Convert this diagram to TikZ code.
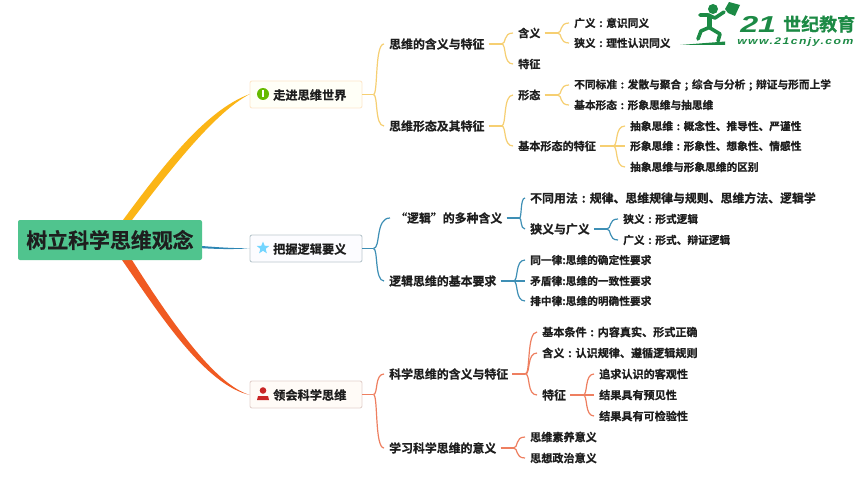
\documentclass[tikz,border=0pt]{standalone}
\usepackage{fontspec}
\setmainfont[BoldFont={Noto Sans CJK SC Bold},BoldFeatures={FakeBold=0.6}]{Noto Sans CJK SC}
\newfontfamily\latinlogo{Liberation Sans}
\usetikzlibrary{calc,shapes.geometric}
\newcommand\cc{\makebox[1em][c]{:}}
\newcommand\cs{\makebox[1em][c]{;}}
\definecolor{txt}{HTML}{1E1E1E}
\definecolor{rootc}{HTML}{50C48E}
\definecolor{yb}{HTML}{FBB516}
\definecolor{yl}{HTML}{F6CF72}
\definecolor{bb}{HTML}{2D86B4}
\definecolor{bl}{HTML}{3E8FB5}
\definecolor{rb}{HTML}{F05A22}
\definecolor{rl}{HTML}{EE7F60}
\definecolor{logogreen}{HTML}{1C8A45}
\tikzset{
 x=1pt,y=-1pt,
 lab/.style={anchor=west,inner xsep=4pt,inner ysep=1pt,xshift=-4pt,text=txt,font=\bfseries},
 fa/.style={lab,font=\bfseries\fontsize{11.9}{12}\selectfont},
 fb/.style={lab,font=\bfseries\fontsize{11.1}{12}\selectfont},
 fc/.style={lab,font=\bfseries\fontsize{10.7}{12}\selectfont},
 mainbox/.style={rounded corners=2pt,line width=0.9pt,minimum width=112pt,minimum height=27pt,inner sep=0pt},
 yline/.style={draw=yl,line width=1.2pt},
 bline/.style={draw=bl,line width=1.2pt},
 rline/.style={draw=rl,line width=1.2pt},
}
\newcommand\forkto[3]{%
 \coordinate (J) at ($(#2.east)+(13,0)$);
 \draw[#1] (#2.east) -- (J);
 \foreach \kid in {#3}{
  \draw[#1] let \p1=(J), \p2=($(\kid.west)+(-1,0)$) in
   (\p1) .. controls ({\x1+0.45*(\x2-\x1)},\y1) and ({\x1+0.1*(\x2-\x1)},\y2) .. (\p2);
 }}
\newcommand\boxfork[3]{%
 \coordinate (J) at ($(#2.east)+(11,0)$);
 \draw[#1] (#2.east) -- (J);
 \foreach \kid in {#3}{
  \draw[#1] let \p1=(J), \p2=($(\kid.west)+(-1,0)$) in
   (\p1) .. controls ({\x1+0.45*(\x2-\x1)},\y1) and ({\x1+0.1*(\x2-\x1)},\y2) .. (\p2);
 }}
\begin{document}
\begin{tikzpicture}
\useasboundingbox (0,0) rectangle (860,484);
\fill[white] (0,0) rectangle (860,484);

% tapered main branches
\fill[yb] (123,220) .. controls (160,170) and (205,110) .. (250,94)
 .. controls (215,112) and (170,170) .. (132,220) -- cycle;
\fill[bb] (202,246) .. controls (220,247.5) and (235,248.3) .. (250,248.3)
 .. controls (235,249.4) and (220,249.2) .. (202,248.2) -- cycle;
\fill[rb] (122,260) .. controls (160,315) and (205,385) .. (250,395)
 .. controls (215,385) and (170,320) .. (132,260) -- cycle;

% root
\node[fill=rootc,rounded corners=2pt,minimum width=184pt,minimum height=40pt,inner sep=0pt,text=txt,font=\bfseries\fontsize{20.9}{22}\selectfont] (root) at (110,240) {树立科学思维观念};

% main boxes
\node[mainbox,draw=yl!45!orange!25,fill=yellow!3] (m1) at (306,94.5) {};
\node[mainbox,draw=bl!35!gray!45,fill=blue!1] (m2) at (306,248.5) {};
\node[mainbox,draw=rl!45!gray!35,fill=orange!3] (m3) at (306,394.5) {};
\node[lab,font=\bfseries\fontsize{12.2}{13}\selectfont] (m1t) at (273,95) {走进思维世界};
\node[lab,font=\bfseries\fontsize{12.2}{13}\selectfont] (m2t) at (273,249) {把握逻辑要义};
\node[lab,font=\bfseries\fontsize{12.2}{13}\selectfont] (m3t) at (273,395) {领会科学思维};

% icons
\fill[green!55!black!60!yellow] (263,94) circle (6);
\fill[white] (262.4,90.5) rectangle (263.6,97.5);
\node[star,star points=5,star point ratio=2.3,fill=blue!30!cyan!55,minimum size=13pt,inner sep=0pt] (staricon) at (263,248) {};
\fill[red!75!black!85] (263,390.5) circle (3.3);
\fill[red!75!black!85] (257,400) -- (258,396) -- (268,396) -- (269,400) -- cycle;

% level 2
\node[fa] (a1) at (389,44) {思维的含义与特征};
\node[fa] (a2) at (389,126) {思维形态及其特征};
\node[fa] (b1) at (395,218) {“逻辑”的多种含义};
\node[fa] (b2) at (389,281) {逻辑思维的基本要求};
\node[fa] (c1) at (389,374) {科学思维的含义与特征};
\node[fa] (c2) at (389,448) {学习科学思维的意义};

% yellow subtree
\node[fb] (a11) at (518,33) {含义};
\node[fb] (a12) at (518,64) {特征};
\node[fb] (a21) at (518,95) {形态};
\node[fb] (a22) at (518,146) {基本形态的特征};
\node[fc] (a111) at (574,23) {广义\cc 意识同义};
\node[fc] (a112) at (574,43) {狭义\cc 理性认识同义};
\node[fc] (a211) at (574,85) {不同标准\cc 发散与聚合\cs 综合与分析\cs 辩证与形而上学};
\node[fc] (a212) at (574,105) {基本形态\cc 形象思维与抽思维};
\node[fc] (a221) at (630,126) {抽象思维\cc 概念性、推导性、严谨性};
\node[fc] (a222) at (630,146) {形象思维\cc 形象性、想象性、情感性};
\node[fc] (a223) at (630,167) {抽象思维与形象思维的区别};

% blue subtree
\node[fa] (b11) at (530,198) {不同用法\cc 规律、思维规律与规则、思维方法、逻辑学};
\node[fa] (b12) at (530,229) {狭义与广义};
\node[fc] (b121) at (623,219) {狭义\cc 形式逻辑};
\node[fc] (b122) at (623,240) {广义\cc 形式、辩证逻辑};
\node[fc] (b21) at (530,260) {同一律:思维的确定性要求};
\node[fc] (b22) at (530,281) {矛盾律:思维的一致性要求};
\node[fc] (b23) at (530,301) {排中律:思维的明确性要求};

% red subtree
\node[fb] (c11) at (542,332) {基本条件\cc 内容真实、形式正确};
\node[fb] (c12) at (542,353) {含义\cc 认识规律、遵循逻辑规则};
\node[fa] (c13) at (542,395) {特征};
\node[fb] (c131) at (599,374) {追求认识的客观性};
\node[fb] (c132) at (599,395) {结果具有预见性};
\node[fb] (c133) at (599,416) {结果具有可检验性};
\node[fb] (c21) at (530,437) {思维素养意义};
\node[fb] (c22) at (530,458) {思想政治意义};

% connectors
\boxfork{yline}{m1}{a1,a2}
\forkto{yline}{a1}{a11,a12}
\forkto{yline}{a11}{a111,a112}
\forkto{yline}{a2}{a21,a22}
\forkto{yline}{a21}{a211,a212}
\forkto{yline}{a22}{a221,a222,a223}
\boxfork{bline}{m2}{b1,b2}
\forkto{bline}{b1}{b11,b12}
\forkto{bline}{b12}{b121,b122}
\forkto{bline}{b2}{b21,b22,b23}
\boxfork{rline}{m3}{c1,c2}
\forkto{rline}{c1}{c11,c12,c13}
\forkto{rline}{c13}{c131,c132,c133}
\forkto{rline}{c2}{c21,c22}

% logo
\fill[logogreen] (680,45) -- (725,41.5) -- (725,45) -- cycle;
\fill[logogreen] (713,9) circle (5);
\fill[logogreen] (725,9) -- (729,2) -- (740,5) -- (735,16) -- (728,13) -- cycle;
\draw[logogreen,line width=3.6pt,line cap=round,line join=round] (700,15) -- (708,15) -- (715,18) -- (724,12);
\draw[logogreen,line width=5pt,line cap=round] (709,16) -- (709,27);
\draw[logogreen,line width=3.6pt,line cap=round,line join=round] (708,28) -- (701,31) -- (698,39);
\draw[logogreen,line width=3.6pt,line cap=round,line join=round] (710,28) -- (720,34) -- (718,41);
\node[anchor=west,inner sep=0pt,xscale=1.4,text=logogreen,font=\latinlogo\bfseries\itshape\fontsize{23}{23}\selectfont] (logoa) at (740,24) {21};
\node[anchor=west,inner sep=0pt,text=logogreen,font=\bfseries\fontsize{18}{18}\selectfont] (logob) at (783,24) {世纪教育};
\node[anchor=west,inner sep=0pt,xscale=1.28,text=logogreen,font=\latinlogo\bfseries\itshape\fontsize{9.5}{10}\selectfont] (logoc) at (737,42) {\addfontfeature{LetterSpace=12}www.21cnjy.com};
\end{tikzpicture}
\end{document}
